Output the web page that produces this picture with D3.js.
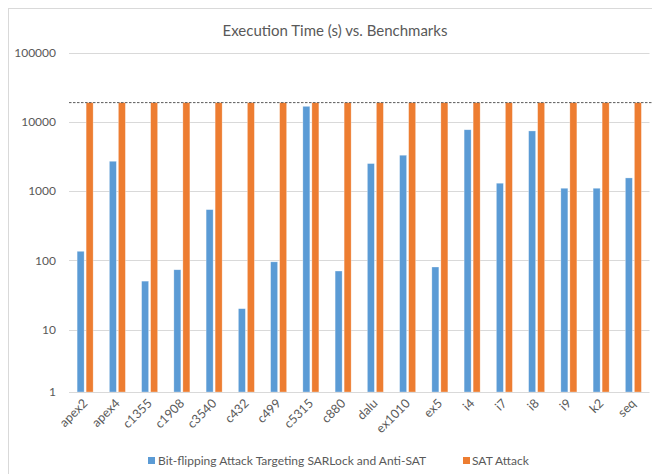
<!DOCTYPE html>
<html>
<head>
<meta charset="utf-8">
<script src="https://cdn.jsdelivr.net/npm/d3@7"></script>
<style>
  html, body { margin: 0; padding: 0; background: #fff; }
  svg { display: block; }
  text { font-family: Lato, "Liberation Sans", sans-serif; fill: #595959; }
</style>
</head>
<body>
<script>
// ---- data ----
const categories = ["apex2","apex4","c1355","c1908","c3540","c432","c499","c5315","c880","dalu","ex1010","ex5","i4","i7","i8","i9","k2","seq"];
const bitFlipping = [135, 2700, 50, 73, 540, 20, 95, 16800, 70, 2500, 3300, 80, 7700, 1300, 7400, 1100, 1100, 1550];
const satAttack = [19000, 19000, 19000, 19000, 19000, 19000, 19000, 19000, 19000, 19000, 19000, 19000, 19000, 19000, 19000, 19000, 19000, 19000];
const timeoutLimit = 19000;
const seriesNames = ["Bit-flipping Attack Targeting SARLock and Anti-SAT", "SAT Attack"];
const seriesColors = ["#5B9BD5", "#ED7D31"];
const yTickValues = [1, 10, 100, 1000, 10000, 100000];
const titleText = "Execution Time (s) vs. Benchmarks";

// ---- layout ----
const W = 652, H = 474;
const plot = { left: 69, right: 649.5, top: 52.7, bottom: 392 };

const svg = d3.select("body").append("svg").attr("width", W).attr("height", H);

// chart border
svg.append("rect").attr("x", 8.5).attr("y", 8.5).attr("width", 700).attr("height", 500)
  .attr("fill", "#fff").attr("stroke", "#D9D9D9").attr("stroke-width", 1);

// title
svg.append("text").attr("x", 335).attr("y", 29.5).attr("text-anchor", "middle")
  .attr("dominant-baseline", "central").style("font-size", "15px").text(titleText);

// scales
const y = d3.scaleLog().domain([1, 10, 100000]).range([plot.bottom, 329.5, plot.top]);
const x0 = d3.scaleBand().domain(categories).range([plot.left, plot.right]).padding(0);
const x1 = d3.scaleBand().domain([0, 1]).range([0, x0.bandwidth()]).paddingInner(2 / 9).paddingOuter(0.9);

// gridlines
svg.append("g").selectAll("line").data(yTickValues.slice(1)).join("line")
  .attr("x1", plot.left).attr("x2", plot.right)
  .attr("y1", d => Math.round(y(d)) + 0.5).attr("y2", d => Math.round(y(d)) + 0.5)
  .attr("stroke", "#D9D9D9").attr("stroke-width", 1);

// y axis labels
const yAxis = d3.axisLeft(y).tickValues(yTickValues).tickFormat(d3.format("d")).tickSize(0).tickPadding(13);
const yg = svg.append("g").attr("transform", `translate(${plot.left},0)`).call(yAxis);
yg.select(".domain").remove();
yg.selectAll("text").style("font-size", "12px").attr("fill", "#595959");

// bars
const rows = categories.map((c, i) => ({ c, vals: [bitFlipping[i], satAttack[i]] }));
const groups = svg.append("g").selectAll("g").data(rows).join("g")
  .attr("transform", d => `translate(${x0(d.c)},0)`);
groups.selectAll("rect").data(d => d.vals.map((v, k) => ({ v, k }))).join("rect")
  .attr("x", d => x1(d.k)).attr("width", x1.bandwidth())
  .attr("y", d => y(d.v)).attr("height", d => plot.bottom - y(d.v))
  .attr("fill", d => seriesColors[d.k])
  .attr("stroke", "#fff").attr("stroke-opacity", 0.5).attr("stroke-width", 0.6);

// baseline
svg.append("line").attr("x1", plot.left).attr("x2", plot.right)
  .attr("y1", plot.bottom + 0.5).attr("y2", plot.bottom + 0.5)
  .attr("stroke", "#D9D9D9").attr("stroke-width", 1);

// timeout dashed line
svg.append("line").attr("x1", plot.left).attr("x2", 652)
  .attr("y1", y(timeoutLimit)).attr("y2", y(timeoutLimit))
  .attr("stroke", "#595959").attr("stroke-width", 1).attr("stroke-dasharray", "2.5,1.5");

// x axis labels
const xAxis = d3.axisBottom(x0).tickSize(0).tickPadding(0);
const xg = svg.append("g").attr("transform", `translate(0,${plot.bottom})`).call(xAxis);
xg.select(".domain").remove();
xg.selectAll("text")
  .style("font-size", "12.5px").attr("fill", "#595959")
  .attr("text-anchor", "end").attr("dy", null).attr("y", 0)
  .attr("transform", "translate(0,9) rotate(-45)")
  .attr("dominant-baseline", "central");

// legend
const legendY = 460.5;
const legendItems = [{ x: 148, tx: 158 }, { x: 463, tx: 472 }];
const lg = svg.append("g");
legendItems.forEach((li, k) => {
  lg.append("rect").attr("x", li.x).attr("y", legendY - 3.5).attr("width", 7).attr("height", 7).attr("fill", seriesColors[k]);
  lg.append("text").attr("x", li.tx).attr("y", legendY).attr("dominant-baseline", "central")
    .style("font-size", "12px").text(seriesNames[k]);
});
</script>
</body>
</html>
